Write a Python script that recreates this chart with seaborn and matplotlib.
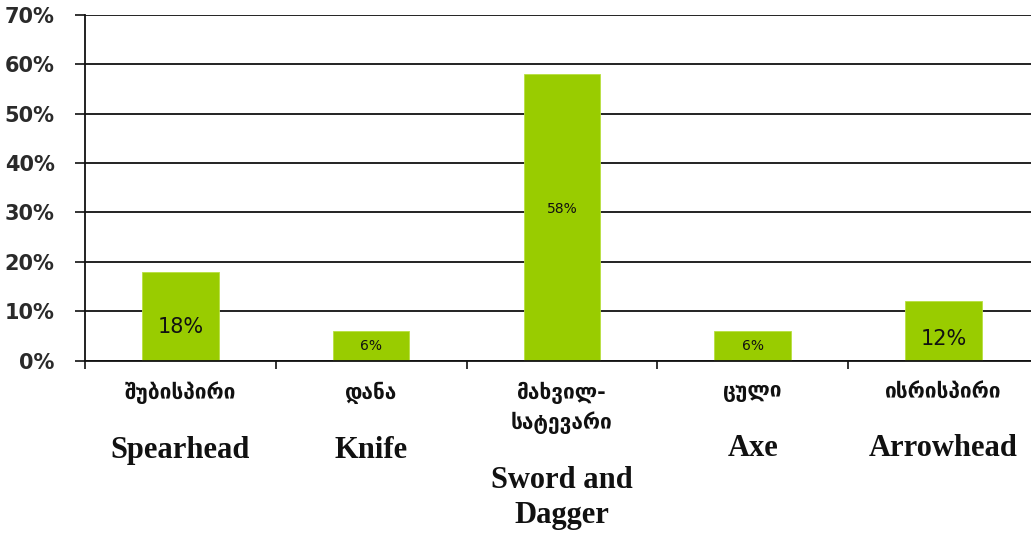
import numpy as np
import pandas as pd
import matplotlib
matplotlib.use('Agg')
import matplotlib.pyplot as plt
import seaborn as sns
from matplotlib.ticker import PercentFormatter, FixedLocator

# chart data
georgian = ['შუბისპირი', 'დანა', 'მახვილ-\nსატევარი', 'ცული', 'ისრისპირი']
english = ['Spearhead', 'Knife', 'Sword and\nDagger', 'Axe', 'Arrowhead']
values = [0.18, 0.06, 0.58, 0.06, 0.12]
value_labels = ['18%', '6%', '58%', '6%', '12%']
label_sizes = [15, 10, 10, 10, 15]
label_pos = [0.38, 0.5, 0.53, 0.5, 0.36]   # fraction of bar height for the label

df = pd.DataFrame({'weapon': english, 'share': values})

sns.set_style('white')
fig = plt.figure(figsize=(10.31, 5.41), dpi=100)
ax = fig.add_axes([0.0825, 0.333, 0.925, 0.64])

sns.barplot(data=df, x='weapon', y='share', color='#99cc00', width=0.4,
            saturation=1, edgecolor='#b8e040', linewidth=0.6, ax=ax)

ax.set_xlim(-0.5, 4.5)
ax.set_ylim(0, 0.7)
ax.set_yticks(np.arange(0, 0.71, 0.1))
ax.yaxis.set_major_formatter(PercentFormatter(1.0, decimals=0))
ax.set_axisbelow(True)
ax.yaxis.grid(True, color='#111111', linewidth=1.3)
ax.set_xlabel('')
ax.set_ylabel('')

# category separators as x ticks
ax.xaxis.set_major_locator(FixedLocator([-0.5, 0.5, 1.5, 2.5, 3.5]))
ax.set_xticklabels([])
ax.tick_params(axis='x', direction='out', length=6, width=1.2, color='#111111', bottom=True)
ax.tick_params(axis='y', direction='out', length=7, width=1.2, color='#111111', left=True,
               labelsize=15, labelcolor='#2a2a2a', pad=15)
for t in ax.get_yticklabels():
    t.set_fontweight('semibold')

for s in ['top', 'right']:
    ax.spines[s].set_visible(False)
for s in ['left', 'bottom']:
    ax.spines[s].set_color('#111111')
    ax.spines[s].set_linewidth(1.3)

# value labels inside bars
for bar, lab, fs, fr in zip(ax.patches, value_labels, label_sizes, label_pos):
    ax.text(bar.get_x() + bar.get_width() / 2, bar.get_height() * fr, lab,
            ha='center', va='center', fontsize=fs, color='#111111')

# two-language category labels
trans = ax.get_xaxis_transform()
for i, (geo, eng) in enumerate(zip(georgian, english)):
    gt = ax.text(i, -0.06, geo, transform=trans, ha='center', va='top',
                 fontsize=15, fontweight='bold', family='DejaVu Sans',
                 color='#111111', linespacing=1.4)
    ax.annotate(eng, xy=(0.5, 0), xycoords=gt, xytext=(0, -23), textcoords='offset points',
                ha='center', va='top', fontsize=22, fontweight='bold',
                family='Liberation Serif', color='#111111', linespacing=1.3,
                annotation_clip=False)

fig.savefig('out.png', dpi=100)
